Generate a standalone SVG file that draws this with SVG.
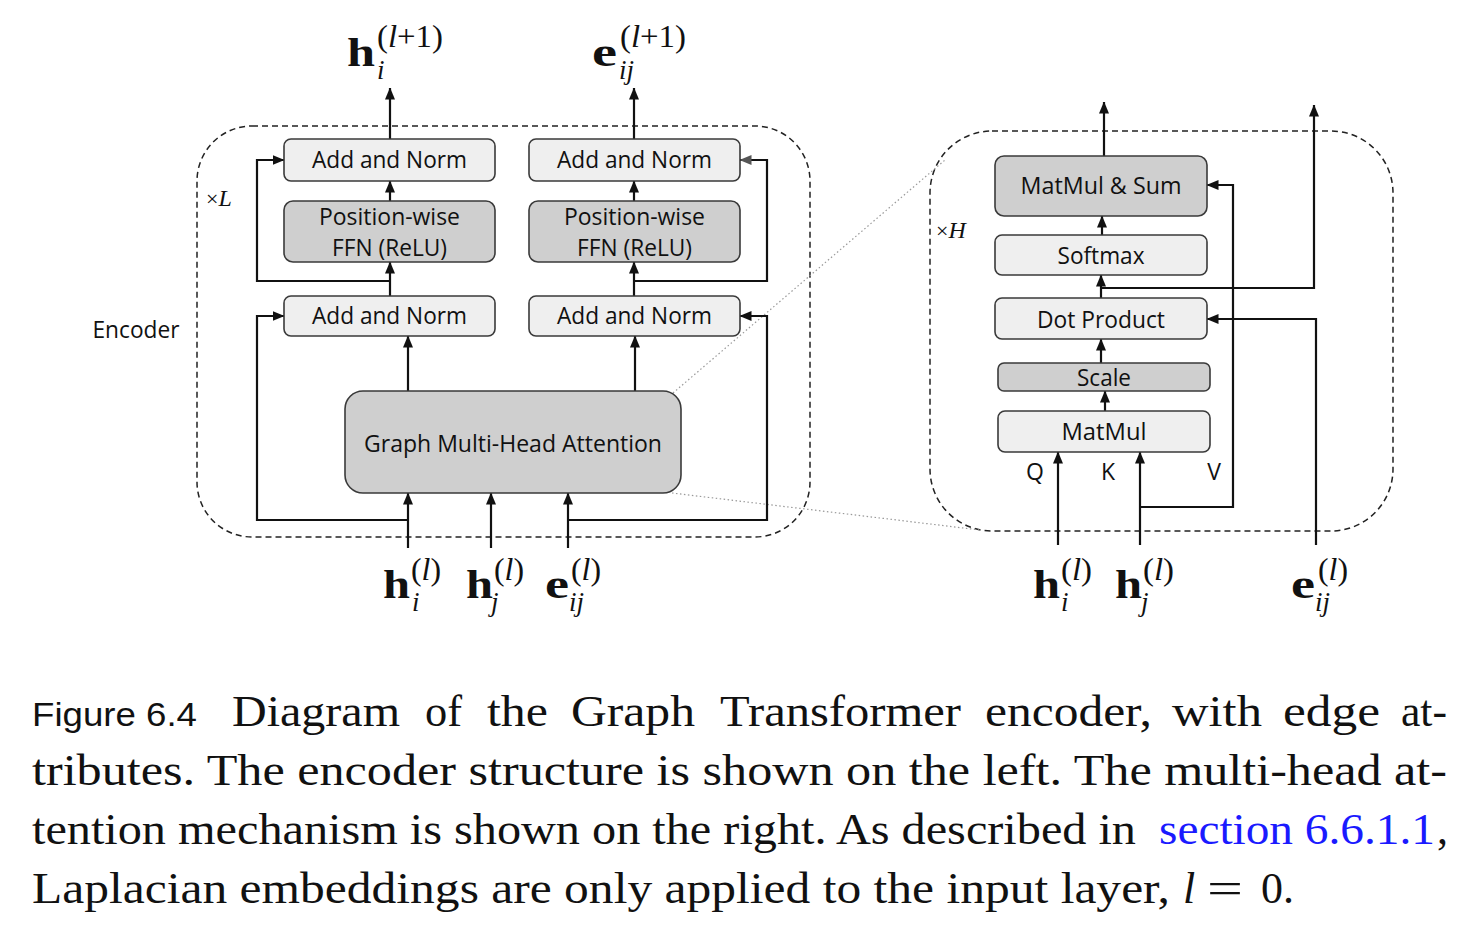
<svg xmlns="http://www.w3.org/2000/svg" width="1482" height="944" viewBox="0 0 1482 944">
<defs>
<marker id="ah" markerUnits="userSpaceOnUse" markerWidth="12" markerHeight="10" viewBox="0 0 12 10" refX="11.5" refY="5" orient="auto"><path d="M0,0 L12,5 L0,10 z" fill="#111"/></marker>
<marker id="ahg" markerUnits="userSpaceOnUse" markerWidth="12" markerHeight="10" viewBox="0 0 12 10" refX="11.5" refY="5" orient="auto"><path d="M0,0 L12,5 L0,10 z" fill="#555"/></marker>
<style>
.box{stroke:#3a3a3a;stroke-width:1.6}
.lt{fill:#efefef}
.dk{fill:#cfcfcf}
.lbl{font-family:"Open Sans","Liberation Sans",sans-serif;font-size:23px;fill:#111;text-anchor:middle}
.wire{fill:none;stroke:#111;stroke-width:2.2}
.arr{marker-end:url(#ah)}
.arrg{marker-end:url(#ahg)}
.dash{fill:none;stroke:#222;stroke-width:1.5;stroke-dasharray:6 4}
.dot{fill:none;stroke:#999;stroke-width:1.2;stroke-dasharray:1.5 2.5}
.m{font-family:"Liberation Serif",serif;fill:#111}
.b{font-size:40px;font-weight:bold}
.sup{font-size:32px}
.sub{font-size:27px;font-style:italic}
.it{font-style:italic}
.cap{font-family:"Liberation Serif",serif;font-size:44px;fill:#111}
</style>
</defs>
<rect width="1482" height="944" fill="#fff"/>

<!-- frames -->
<g id="encoder-frame">
<rect class="dash" x="197" y="126" width="613" height="411" rx="55"/>
<text class="lbl" x="136" y="338" textLength="87" lengthAdjust="spacingAndGlyphs" font-size="22">Encoder</text>
<text class="m" x="206" y="206" font-size="22">×<tspan class="it" font-size="24">L</tspan></text>
</g>
<g id="attention-frame">
<rect class="dash" x="930" y="131" width="463" height="400" rx="62"/>
<text class="m" x="936" y="238" font-size="22">×<tspan class="it" font-size="24">H</tspan></text>
</g>

<!-- connectors -->
<g id="connectors">
<path class="dot" d="M673,393 L945,160"/>
<path class="dot" d="M672,493 L980,530"/>
<path class="wire arr" d="M390,139 V88"/>
<path class="wire arr" d="M634,139 V88"/>
<path class="wire arr" d="M390,201 V181"/>
<path class="wire arr" d="M390,296 V262"/>
<path class="wire arr" d="M390,281 H257 V160 H284"/>
<path class="wire arr" d="M408,391 V336"/>
<path class="wire arr" d="M408,520 H257 V316 H284"/>
<path class="wire arr" d="M634,201 V181"/>
<path class="wire arr" d="M634,296 V262"/>
<path class="wire arrg" d="M634,281 H767 V160 H740"/>
<path class="wire arr" d="M635,391 V336"/>
<path class="wire arr" d="M568,520 H767 V316 H740"/>
<path class="wire arr" d="M408,548 V493"/>
<path class="wire arr" d="M491,548 V493"/>
<path class="wire arr" d="M568,548 V493"/>
<path class="wire arr" d="M1104,156 V102"/>
<path class="wire arr" d="M1102,235 V216"/>
<path class="wire arr" d="M1101,298 V275"/>
<path class="wire arr" d="M1101,288 H1314 V105"/>
<path class="wire arr" d="M1101,363 V339"/>
<path class="wire arr" d="M1105,411 V391"/>
<path class="wire arr" d="M1058,545 V452"/>
<path class="wire arr" d="M1140,545 V452"/>
<path class="wire arr" d="M1140,507 H1233 V185 H1207"/>
<path class="wire arr" d="M1316,545 V319 H1207"/>
</g>

<!-- left nodes -->
<g id="add-norm-top-left"><rect class="box lt" x="284" y="139" width="211" height="42" rx="7"/><text class="lbl" x="389.5" y="168" textLength="155" lengthAdjust="spacingAndGlyphs">Add and Norm</text></g>
<g id="ffn-left"><rect class="box dk" x="284" y="201" width="211" height="61" rx="9"/><text class="lbl" x="389.5" y="225" textLength="141" lengthAdjust="spacingAndGlyphs">Position-wise</text><text class="lbl" x="389.5" y="256" textLength="115" lengthAdjust="spacingAndGlyphs">FFN (ReLU)</text></g>
<g id="add-norm-bottom-left"><rect class="box lt" x="284" y="296" width="211" height="40" rx="7"/><text class="lbl" x="389.5" y="324" textLength="155" lengthAdjust="spacingAndGlyphs">Add and Norm</text></g>
<g id="add-norm-top-right"><rect class="box lt" x="529" y="139" width="211" height="42" rx="7"/><text class="lbl" x="634.5" y="168" textLength="155" lengthAdjust="spacingAndGlyphs">Add and Norm</text></g>
<g id="ffn-right"><rect class="box dk" x="529" y="201" width="211" height="61" rx="9"/><text class="lbl" x="634.5" y="225" textLength="141" lengthAdjust="spacingAndGlyphs">Position-wise</text><text class="lbl" x="634.5" y="256" textLength="115" lengthAdjust="spacingAndGlyphs">FFN (ReLU)</text></g>
<g id="add-norm-bottom-right"><rect class="box lt" x="529" y="296" width="211" height="40" rx="7"/><text class="lbl" x="634.5" y="324" textLength="155" lengthAdjust="spacingAndGlyphs">Add and Norm</text></g>
<g id="graph-mha"><rect class="box dk" x="345" y="391" width="336" height="102" rx="18"/><text class="lbl" x="513" y="452" textLength="298" lengthAdjust="spacingAndGlyphs">Graph Multi-Head Attention</text></g>

<!-- right nodes -->
<g id="matmul-sum"><rect class="box dk" x="995" y="156" width="212" height="60" rx="9"/><text class="lbl" x="1101" y="194" textLength="161" lengthAdjust="spacingAndGlyphs">MatMul &amp; Sum</text></g>
<g id="softmax"><rect class="box lt" x="995" y="235" width="212" height="40" rx="7"/><text class="lbl" x="1101" y="264" textLength="87" lengthAdjust="spacingAndGlyphs">Softmax</text></g>
<g id="dot-product"><rect class="box lt" x="995" y="298" width="212" height="41" rx="7"/><text class="lbl" x="1101" y="328" textLength="128" lengthAdjust="spacingAndGlyphs">Dot Product</text></g>
<g id="scale"><rect class="box dk" x="998" y="363" width="212" height="28" rx="6"/><text class="lbl" x="1104" y="386" textLength="54" lengthAdjust="spacingAndGlyphs">Scale</text></g>
<g id="matmul"><rect class="box lt" x="998" y="411" width="212" height="41" rx="7"/><text class="lbl" x="1104" y="440" textLength="85" lengthAdjust="spacingAndGlyphs">MatMul</text></g>
<g id="qkv">
<text class="lbl" x="1035" y="480">Q</text>
<text class="lbl" x="1108" y="480">K</text>
<text class="lbl" x="1214" y="480">V</text>
</g>

<!-- math labels -->
<g id="out-h">
<text class="m b" x="347" y="66" textLength="28" lengthAdjust="spacingAndGlyphs">h</text>
<text class="m sup" x="377" y="47" textLength="66" lengthAdjust="spacingAndGlyphs">(<tspan class="it">l</tspan>+1)</text>
<text class="m sub" x="377" y="79">i</text>
</g>
<g id="out-e">
<text class="m b" x="592" y="66" textLength="25" lengthAdjust="spacingAndGlyphs">e</text>
<text class="m sup" x="620" y="47" textLength="66" lengthAdjust="spacingAndGlyphs">(<tspan class="it">l</tspan>+1)</text>
<text class="m sub" x="619" y="79">ij</text>
</g>
<g id="in-hi-left">
<text class="m b" x="383" y="598" textLength="27" lengthAdjust="spacingAndGlyphs">h</text>
<text class="m sup" x="411" y="580" textLength="30" lengthAdjust="spacingAndGlyphs">(<tspan class="it">l</tspan>)</text>
<text class="m sub" x="412" y="611">i</text>
</g>
<g id="in-hj-left">
<text class="m b" x="466" y="598" textLength="27" lengthAdjust="spacingAndGlyphs">h</text>
<text class="m sup" x="494" y="580" textLength="30" lengthAdjust="spacingAndGlyphs">(<tspan class="it">l</tspan>)</text>
<text class="m sub" x="491" y="611">j</text>
</g>
<g id="in-e-left">
<text class="m b" x="545" y="598" textLength="24" lengthAdjust="spacingAndGlyphs">e</text>
<text class="m sup" x="571" y="580" textLength="30" lengthAdjust="spacingAndGlyphs">(<tspan class="it">l</tspan>)</text>
<text class="m sub" x="569" y="611">ij</text>
</g>
<g id="in-hi-right">
<text class="m b" x="1033" y="598" textLength="27" lengthAdjust="spacingAndGlyphs">h</text>
<text class="m sup" x="1061" y="580" textLength="31" lengthAdjust="spacingAndGlyphs">(<tspan class="it">l</tspan>)</text>
<text class="m sub" x="1061" y="611">i</text>
</g>
<g id="in-hj-right">
<text class="m b" x="1115" y="598" textLength="27" lengthAdjust="spacingAndGlyphs">h</text>
<text class="m sup" x="1143" y="580" textLength="31" lengthAdjust="spacingAndGlyphs">(<tspan class="it">l</tspan>)</text>
<text class="m sub" x="1141" y="611">j</text>
</g>
<g id="in-e-right">
<text class="m b" x="1291" y="598" textLength="24" lengthAdjust="spacingAndGlyphs">e</text>
<text class="m sup" x="1318" y="580" textLength="30" lengthAdjust="spacingAndGlyphs">(<tspan class="it">l</tspan>)</text>
<text class="m sub" x="1315" y="611">ij</text>
</g>

<!-- caption -->
<g id="caption">
<text x="32" y="726" font-family="Liberation Sans, Arial, sans-serif" font-size="33" fill="#111" textLength="165" lengthAdjust="spacingAndGlyphs">Figure 6.4</text>
<text class="cap" x="232" y="726" textLength="168" lengthAdjust="spacingAndGlyphs">Diagram</text>
<text class="cap" x="425" y="726" textLength="37" lengthAdjust="spacingAndGlyphs">of</text>
<text class="cap" x="487" y="726" textLength="61" lengthAdjust="spacingAndGlyphs">the</text>
<text class="cap" x="571" y="726" textLength="124" lengthAdjust="spacingAndGlyphs">Graph</text>
<text class="cap" x="720" y="726" textLength="241" lengthAdjust="spacingAndGlyphs">Transformer</text>
<text class="cap" x="985" y="726" textLength="167" lengthAdjust="spacingAndGlyphs">encoder,</text>
<text class="cap" x="1172" y="726" textLength="90" lengthAdjust="spacingAndGlyphs">with</text>
<text class="cap" x="1283" y="726" textLength="97" lengthAdjust="spacingAndGlyphs">edge</text>
<text class="cap" x="1401" y="726" textLength="46" lengthAdjust="spacingAndGlyphs">at-</text>
<text class="cap" x="32" y="785" textLength="1415" lengthAdjust="spacingAndGlyphs">tributes. The encoder structure is shown on the left. The multi-head at-</text>
<text class="cap" x="32" y="844" textLength="1104" lengthAdjust="spacingAndGlyphs">tention mechanism is shown on the right. As described in</text>
<text class="cap" x="1159" y="844" textLength="276" lengthAdjust="spacingAndGlyphs" style="fill:#1a1aff">section 6.6.1.1</text>
<text class="cap" x="1437" y="844">,</text>
<text class="cap" x="32" y="903" textLength="1138" lengthAdjust="spacingAndGlyphs">Laplacian embeddings are only applied to the input layer,</text>
<text class="cap it" x="1183" y="903">l</text>
<text class="cap" x="1207" y="903" textLength="36" lengthAdjust="spacingAndGlyphs">=</text>
<text class="cap" x="1261" y="903">0.</text>
</g>
</svg>
